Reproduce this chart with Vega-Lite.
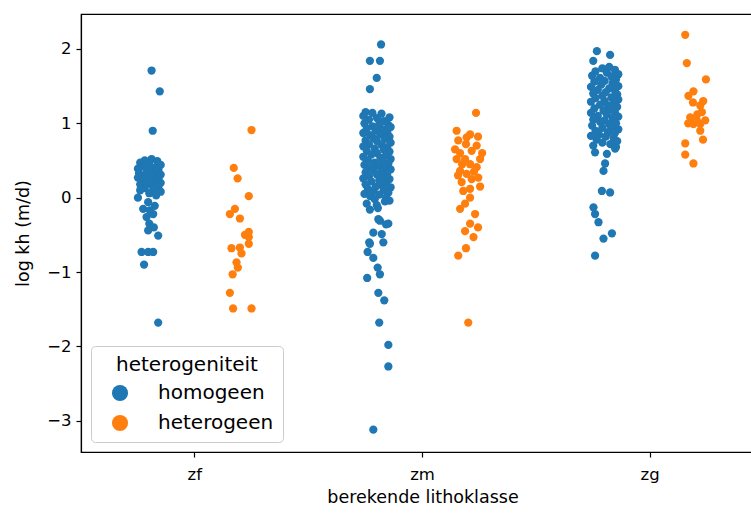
{
  "$schema": "https://vega.github.io/schema/vega-lite/v6.json",
  "width": 672,
  "height": 438,
  "autosize": "none",
  "padding": {"left": 81, "top": 14, "right": 0, "bottom": 61},
  "background": "white",
  "data": {
    "values": [
      {"k":"zf","h":"homogeen","v":1.71,"j":0.01},
      {"k":"zf","h":"homogeen","v":1.43,"j":0.046},
      {"k":"zf","h":"homogeen","v":0.90,"j":0.015},
      {"k":"zf","h":"homogeen","v":0.52,"j":0.01},
      {"k":"zf","h":"homogeen","v":0.50,"j":-0.02},
      {"k":"zf","h":"homogeen","v":0.49,"j":0.035},
      {"k":"zf","h":"homogeen","v":0.47,"j":-0.04},
      {"k":"zf","h":"homogeen","v":0.45,"j":0.0},
      {"k":"zf","h":"homogeen","v":0.44,"j":0.05},
      {"k":"zf","h":"homogeen","v":0.42,"j":-0.03},
      {"k":"zf","h":"homogeen","v":0.40,"j":0.02},
      {"k":"zf","h":"homogeen","v":0.39,"j":-0.05},
      {"k":"zf","h":"homogeen","v":0.38,"j":0.04},
      {"k":"zf","h":"homogeen","v":0.36,"j":-0.01},
      {"k":"zf","h":"homogeen","v":0.35,"j":0.03},
      {"k":"zf","h":"homogeen","v":0.33,"j":-0.045},
      {"k":"zf","h":"homogeen","v":0.32,"j":0.01},
      {"k":"zf","h":"homogeen","v":0.31,"j":0.05},
      {"k":"zf","h":"homogeen","v":0.30,"j":-0.02},
      {"k":"zf","h":"homogeen","v":0.28,"j":0.025},
      {"k":"zf","h":"homogeen","v":0.27,"j":-0.05},
      {"k":"zf","h":"homogeen","v":0.26,"j":0.04},
      {"k":"zf","h":"homogeen","v":0.25,"j":0.0},
      {"k":"zf","h":"homogeen","v":0.24,"j":-0.03},
      {"k":"zf","h":"homogeen","v":0.22,"j":0.03},
      {"k":"zf","h":"homogeen","v":0.21,"j":-0.01},
      {"k":"zf","h":"homogeen","v":0.20,"j":0.05},
      {"k":"zf","h":"homogeen","v":0.18,"j":-0.04},
      {"k":"zf","h":"homogeen","v":0.17,"j":0.01},
      {"k":"zf","h":"homogeen","v":0.15,"j":0.04},
      {"k":"zf","h":"homogeen","v":0.13,"j":-0.02},
      {"k":"zf","h":"homogeen","v":0.12,"j":0.02},
      {"k":"zf","h":"homogeen","v":0.10,"j":-0.04},
      {"k":"zf","h":"homogeen","v":0.08,"j":0.05},
      {"k":"zf","h":"homogeen","v":0.06,"j":0.0},
      {"k":"zf","h":"homogeen","v":0.03,"j":0.03},
      {"k":"zf","h":"homogeen","v":0.00,"j":-0.05},
      {"k":"zf","h":"homogeen","v":-0.06,"j":-0.005},
      {"k":"zf","h":"homogeen","v":-0.11,"j":0.024},
      {"k":"zf","h":"homogeen","v":-0.15,"j":-0.027},
      {"k":"zf","h":"homogeen","v":-0.17,"j":0.002},
      {"k":"zf","h":"homogeen","v":-0.22,"j":0.017},
      {"k":"zf","h":"homogeen","v":-0.26,"j":-0.012},
      {"k":"zf","h":"homogeen","v":-0.35,"j":0.0},
      {"k":"zf","h":"homogeen","v":-0.40,"j":0.02},
      {"k":"zf","h":"homogeen","v":-0.44,"j":-0.005},
      {"k":"zf","h":"homogeen","v":-0.51,"j":0.039},
      {"k":"zf","h":"homogeen","v":-0.73,"j":-0.034},
      {"k":"zf","h":"homogeen","v":-0.73,"j":-0.005},
      {"k":"zf","h":"homogeen","v":-0.73,"j":0.017},
      {"k":"zf","h":"homogeen","v":-0.90,"j":-0.023},
      {"k":"zf","h":"homogeen","v":-1.68,"j":0.039},

      {"k":"zf","h":"heterogeen","v":0.91,"j":0.049},
      {"k":"zf","h":"heterogeen","v":0.40,"j":-0.029},
      {"k":"zf","h":"heterogeen","v":0.26,"j":-0.012},
      {"k":"zf","h":"heterogeen","v":0.02,"j":0.037},
      {"k":"zf","h":"heterogeen","v":-0.15,"j":-0.024},
      {"k":"zf","h":"heterogeen","v":-0.22,"j":-0.046},
      {"k":"zf","h":"heterogeen","v":-0.28,"j":-0.002},
      {"k":"zf","h":"heterogeen","v":-0.46,"j":0.037},
      {"k":"zf","h":"heterogeen","v":-0.50,"j":0.02},
      {"k":"zf","h":"heterogeen","v":-0.53,"j":0.037},
      {"k":"zf","h":"heterogeen","v":-0.62,"j":0.037},
      {"k":"zf","h":"heterogeen","v":-0.68,"j":-0.039},
      {"k":"zf","h":"heterogeen","v":-0.67,"j":-0.002},
      {"k":"zf","h":"heterogeen","v":-0.75,"j":0.005},
      {"k":"zf","h":"heterogeen","v":-0.87,"j":-0.017},
      {"k":"zf","h":"heterogeen","v":-0.94,"j":-0.011},
      {"k":"zf","h":"heterogeen","v":-1.03,"j":-0.034},
      {"k":"zf","h":"heterogeen","v":-1.28,"j":-0.046},
      {"k":"zf","h":"heterogeen","v":-1.49,"j":-0.032},
      {"k":"zf","h":"heterogeen","v":-1.49,"j":0.049},

      {"k":"zm","h":"homogeen","v":2.06,"j":0.018},
      {"k":"zm","h":"homogeen","v":1.84,"j":-0.031},
      {"k":"zm","h":"homogeen","v":1.84,"j":0.013},
      {"k":"zm","h":"homogeen","v":1.61,"j":-0.001},
      {"k":"zm","h":"homogeen","v":1.46,"j":-0.031},
      {"k":"zm","h":"homogeen","v":1.15,"j":-0.05},
      {"k":"zm","h":"homogeen","v":1.14,"j":-0.02},
      {"k":"zm","h":"homogeen","v":1.13,"j":0.02},
      {"k":"zm","h":"homogeen","v":1.10,"j":-0.06},
      {"k":"zm","h":"homogeen","v":1.08,"j":0.055},
      {"k":"zm","h":"homogeen","v":1.07,"j":0.0},
      {"k":"zm","h":"homogeen","v":1.05,"j":-0.035},
      {"k":"zm","h":"homogeen","v":1.03,"j":0.03},
      {"k":"zm","h":"homogeen","v":1.00,"j":-0.055},
      {"k":"zm","h":"homogeen","v":0.99,"j":0.01},
      {"k":"zm","h":"homogeen","v":0.98,"j":0.05},
      {"k":"zm","h":"homogeen","v":0.96,"j":-0.02},
      {"k":"zm","h":"homogeen","v":0.95,"j":0.06},
      {"k":"zm","h":"homogeen","v":0.93,"j":-0.045},
      {"k":"zm","h":"homogeen","v":0.92,"j":0.025},
      {"k":"zm","h":"homogeen","v":0.90,"j":-0.005},
      {"k":"zm","h":"homogeen","v":0.88,"j":0.045},
      {"k":"zm","h":"homogeen","v":0.87,"j":-0.06},
      {"k":"zm","h":"homogeen","v":0.85,"j":0.015},
      {"k":"zm","h":"homogeen","v":0.84,"j":-0.03},
      {"k":"zm","h":"homogeen","v":0.82,"j":0.055},
      {"k":"zm","h":"homogeen","v":0.80,"j":-0.015},
      {"k":"zm","h":"homogeen","v":0.79,"j":0.035},
      {"k":"zm","h":"homogeen","v":0.77,"j":-0.05},
      {"k":"zm","h":"homogeen","v":0.76,"j":0.0},
      {"k":"zm","h":"homogeen","v":0.74,"j":0.06},
      {"k":"zm","h":"homogeen","v":0.72,"j":-0.035},
      {"k":"zm","h":"homogeen","v":0.71,"j":0.02},
      {"k":"zm","h":"homogeen","v":0.69,"j":-0.06},
      {"k":"zm","h":"homogeen","v":0.68,"j":0.045},
      {"k":"zm","h":"homogeen","v":0.66,"j":-0.01},
      {"k":"zm","h":"homogeen","v":0.65,"j":0.03},
      {"k":"zm","h":"homogeen","v":0.63,"j":-0.045},
      {"k":"zm","h":"homogeen","v":0.62,"j":0.055},
      {"k":"zm","h":"homogeen","v":0.60,"j":0.0},
      {"k":"zm","h":"homogeen","v":0.58,"j":-0.025},
      {"k":"zm","h":"homogeen","v":0.57,"j":0.04},
      {"k":"zm","h":"homogeen","v":0.55,"j":-0.06},
      {"k":"zm","h":"homogeen","v":0.54,"j":0.015},
      {"k":"zm","h":"homogeen","v":0.52,"j":0.06},
      {"k":"zm","h":"homogeen","v":0.50,"j":-0.04},
      {"k":"zm","h":"homogeen","v":0.49,"j":0.025},
      {"k":"zm","h":"homogeen","v":0.47,"j":-0.01},
      {"k":"zm","h":"homogeen","v":0.46,"j":0.05},
      {"k":"zm","h":"homogeen","v":0.44,"j":-0.055},
      {"k":"zm","h":"homogeen","v":0.43,"j":0.005},
      {"k":"zm","h":"homogeen","v":0.41,"j":0.035},
      {"k":"zm","h":"homogeen","v":0.40,"j":-0.03},
      {"k":"zm","h":"homogeen","v":0.38,"j":0.06},
      {"k":"zm","h":"homogeen","v":0.37,"j":-0.015},
      {"k":"zm","h":"homogeen","v":0.35,"j":0.02},
      {"k":"zm","h":"homogeen","v":0.34,"j":-0.05},
      {"k":"zm","h":"homogeen","v":0.32,"j":0.045},
      {"k":"zm","h":"homogeen","v":0.31,"j":0.0},
      {"k":"zm","h":"homogeen","v":0.29,"j":-0.035},
      {"k":"zm","h":"homogeen","v":0.28,"j":0.03},
      {"k":"zm","h":"homogeen","v":0.26,"j":-0.06},
      {"k":"zm","h":"homogeen","v":0.25,"j":0.055},
      {"k":"zm","h":"homogeen","v":0.23,"j":0.01},
      {"k":"zm","h":"homogeen","v":0.22,"j":-0.025},
      {"k":"zm","h":"homogeen","v":0.20,"j":0.04},
      {"k":"zm","h":"homogeen","v":0.18,"j":-0.05},
      {"k":"zm","h":"homogeen","v":0.17,"j":0.02},
      {"k":"zm","h":"homogeen","v":0.15,"j":-0.005},
      {"k":"zm","h":"homogeen","v":0.14,"j":0.06},
      {"k":"zm","h":"homogeen","v":0.12,"j":-0.04},
      {"k":"zm","h":"homogeen","v":0.10,"j":0.03},
      {"k":"zm","h":"homogeen","v":0.09,"j":-0.015},
      {"k":"zm","h":"homogeen","v":0.07,"j":0.05},
      {"k":"zm","h":"homogeen","v":0.05,"j":-0.055},
      {"k":"zm","h":"homogeen","v":0.04,"j":0.01},
      {"k":"zm","h":"homogeen","v":0.02,"j":-0.03},
      {"k":"zm","h":"homogeen","v":0.00,"j":0.04},
      {"k":"zm","h":"homogeen","v":-0.02,"j":-0.01},
      {"k":"zm","h":"homogeen","v":-0.04,"j":0.055},
      {"k":"zm","h":"homogeen","v":-0.05,"j":0.035},
      {"k":"zm","h":"homogeen","v":-0.08,"j":-0.045},
      {"k":"zm","h":"homogeen","v":-0.10,"j":-0.001},
      {"k":"zm","h":"homogeen","v":-0.14,"j":0.004},
      {"k":"zm","h":"homogeen","v":-0.16,"j":-0.031},
      {"k":"zm","h":"homogeen","v":-0.29,"j":0.006},
      {"k":"zm","h":"homogeen","v":-0.31,"j":0.013},
      {"k":"zm","h":"homogeen","v":-0.35,"j":0.05},
      {"k":"zm","h":"homogeen","v":-0.36,"j":0.04},
      {"k":"zm","h":"homogeen","v":-0.47,"j":-0.016},
      {"k":"zm","h":"homogeen","v":-0.49,"j":0.021},
      {"k":"zm","h":"homogeen","v":-0.60,"j":-0.034},
      {"k":"zm","h":"homogeen","v":-0.60,"j":0.028},
      {"k":"zm","h":"homogeen","v":-0.62,"j":-0.031},
      {"k":"zm","h":"homogeen","v":-0.73,"j":-0.041},
      {"k":"zm","h":"homogeen","v":-0.81,"j":-0.016},
      {"k":"zm","h":"homogeen","v":-0.94,"j":0.003},
      {"k":"zm","h":"homogeen","v":-1.03,"j":0.013},
      {"k":"zm","h":"homogeen","v":-1.08,"j":-0.043},
      {"k":"zm","h":"homogeen","v":-1.28,"j":0.006},
      {"k":"zm","h":"homogeen","v":-1.38,"j":0.032},
      {"k":"zm","h":"homogeen","v":-1.68,"j":0.01},
      {"k":"zm","h":"homogeen","v":-1.98,"j":0.05},
      {"k":"zm","h":"homogeen","v":-2.27,"j":0.05},
      {"k":"zm","h":"homogeen","v":-3.12,"j":-0.016},

      {"k":"zm","h":"heterogeen","v":1.14,"j":0.035},
      {"k":"zm","h":"heterogeen","v":0.90,"j":-0.05},
      {"k":"zm","h":"heterogeen","v":0.85,"j":0.009},
      {"k":"zm","h":"heterogeen","v":0.82,"j":0.044},
      {"k":"zm","h":"heterogeen","v":0.81,"j":-0.006},
      {"k":"zm","h":"heterogeen","v":0.77,"j":-0.043},
      {"k":"zm","h":"heterogeen","v":0.72,"j":-0.009},
      {"k":"zm","h":"heterogeen","v":0.70,"j":0.038},
      {"k":"zm","h":"heterogeen","v":0.65,"j":-0.057},
      {"k":"zm","h":"heterogeen","v":0.63,"j":0.016},
      {"k":"zm","h":"heterogeen","v":0.60,"j":-0.035},
      {"k":"zm","h":"heterogeen","v":0.60,"j":0.062},
      {"k":"zm","h":"heterogeen","v":0.52,"j":-0.05},
      {"k":"zm","h":"heterogeen","v":0.52,"j":-0.013},
      {"k":"zm","h":"heterogeen","v":0.52,"j":0.053},
      {"k":"zm","h":"heterogeen","v":0.45,"j":0.009},
      {"k":"zm","h":"heterogeen","v":0.45,"j":-0.026},
      {"k":"zm","h":"heterogeen","v":0.41,"j":0.038},
      {"k":"zm","h":"heterogeen","v":0.36,"j":-0.035},
      {"k":"zm","h":"heterogeen","v":0.35,"j":0.026},
      {"k":"zm","h":"heterogeen","v":0.32,"j":-0.006},
      {"k":"zm","h":"heterogeen","v":0.30,"j":-0.044},
      {"k":"zm","h":"heterogeen","v":0.27,"j":0.045},
      {"k":"zm","h":"heterogeen","v":0.25,"j":0.016},
      {"k":"zm","h":"heterogeen","v":0.21,"j":-0.028},
      {"k":"zm","h":"heterogeen","v":0.15,"j":0.053},
      {"k":"zm","h":"heterogeen","v":0.12,"j":0.009},
      {"k":"zm","h":"heterogeen","v":0.09,"j":-0.021},
      {"k":"zm","h":"heterogeen","v":0.00,"j":0.009},
      {"k":"zm","h":"heterogeen","v":-0.08,"j":-0.013},
      {"k":"zm","h":"heterogeen","v":-0.15,"j":-0.035},
      {"k":"zm","h":"heterogeen","v":-0.22,"j":0.031},
      {"k":"zm","h":"heterogeen","v":-0.35,"j":0.009},
      {"k":"zm","h":"heterogeen","v":-0.40,"j":0.044},
      {"k":"zm","h":"heterogeen","v":-0.45,"j":-0.013},
      {"k":"zm","h":"heterogeen","v":-0.53,"j":0.024},
      {"k":"zm","h":"heterogeen","v":-0.68,"j":-0.009},
      {"k":"zm","h":"heterogeen","v":-0.78,"j":-0.043},
      {"k":"zm","h":"heterogeen","v":-1.68,"j":0.001},

      {"k":"zg","h":"homogeen","v":1.97,"j":-0.034},
      {"k":"zg","h":"homogeen","v":1.92,"j":0.024},
      {"k":"zg","h":"homogeen","v":1.84,"j":-0.05},
      {"k":"zg","h":"homogeen","v":1.76,"j":0.02},
      {"k":"zg","h":"homogeen","v":1.74,"j":-0.01},
      {"k":"zg","h":"homogeen","v":1.72,"j":0.045},
      {"k":"zg","h":"homogeen","v":1.70,"j":-0.04},
      {"k":"zg","h":"homogeen","v":1.68,"j":0.01},
      {"k":"zg","h":"homogeen","v":1.66,"j":0.06},
      {"k":"zg","h":"homogeen","v":1.64,"j":-0.055},
      {"k":"zg","h":"homogeen","v":1.63,"j":0.03},
      {"k":"zg","h":"homogeen","v":1.61,"j":-0.02},
      {"k":"zg","h":"homogeen","v":1.59,"j":0.05},
      {"k":"zg","h":"homogeen","v":1.57,"j":0.0},
      {"k":"zg","h":"homogeen","v":1.56,"j":-0.045},
      {"k":"zg","h":"homogeen","v":1.54,"j":0.035},
      {"k":"zg","h":"homogeen","v":1.52,"j":-0.015},
      {"k":"zg","h":"homogeen","v":1.50,"j":0.06},
      {"k":"zg","h":"homogeen","v":1.49,"j":-0.06},
      {"k":"zg","h":"homogeen","v":1.47,"j":0.02},
      {"k":"zg","h":"homogeen","v":1.45,"j":-0.03},
      {"k":"zg","h":"homogeen","v":1.44,"j":0.045},
      {"k":"zg","h":"homogeen","v":1.42,"j":0.005},
      {"k":"zg","h":"homogeen","v":1.40,"j":-0.05},
      {"k":"zg","h":"homogeen","v":1.39,"j":0.055},
      {"k":"zg","h":"homogeen","v":1.37,"j":-0.01},
      {"k":"zg","h":"homogeen","v":1.35,"j":0.03},
      {"k":"zg","h":"homogeen","v":1.34,"j":-0.04},
      {"k":"zg","h":"homogeen","v":1.32,"j":0.06},
      {"k":"zg","h":"homogeen","v":1.30,"j":0.0},
      {"k":"zg","h":"homogeen","v":1.29,"j":-0.06},
      {"k":"zg","h":"homogeen","v":1.27,"j":0.04},
      {"k":"zg","h":"homogeen","v":1.25,"j":-0.02},
      {"k":"zg","h":"homogeen","v":1.24,"j":0.015},
      {"k":"zg","h":"homogeen","v":1.22,"j":0.055},
      {"k":"zg","h":"homogeen","v":1.20,"j":-0.045},
      {"k":"zg","h":"homogeen","v":1.19,"j":0.025},
      {"k":"zg","h":"homogeen","v":1.17,"j":-0.005},
      {"k":"zg","h":"homogeen","v":1.15,"j":0.045},
      {"k":"zg","h":"homogeen","v":1.14,"j":-0.06},
      {"k":"zg","h":"homogeen","v":1.12,"j":0.01},
      {"k":"zg","h":"homogeen","v":1.10,"j":-0.03},
      {"k":"zg","h":"homogeen","v":1.09,"j":0.06},
      {"k":"zg","h":"homogeen","v":1.07,"j":0.035},
      {"k":"zg","h":"homogeen","v":1.05,"j":-0.05},
      {"k":"zg","h":"homogeen","v":1.04,"j":0.0},
      {"k":"zg","h":"homogeen","v":1.02,"j":-0.02},
      {"k":"zg","h":"homogeen","v":1.00,"j":0.05},
      {"k":"zg","h":"homogeen","v":0.99,"j":0.02},
      {"k":"zg","h":"homogeen","v":0.97,"j":-0.055},
      {"k":"zg","h":"homogeen","v":0.95,"j":0.03},
      {"k":"zg","h":"homogeen","v":0.94,"j":-0.01},
      {"k":"zg","h":"homogeen","v":0.92,"j":0.06},
      {"k":"zg","h":"homogeen","v":0.90,"j":-0.04},
      {"k":"zg","h":"homogeen","v":0.88,"j":0.015},
      {"k":"zg","h":"homogeen","v":0.87,"j":0.045},
      {"k":"zg","h":"homogeen","v":0.85,"j":-0.025},
      {"k":"zg","h":"homogeen","v":0.83,"j":-0.06},
      {"k":"zg","h":"homogeen","v":0.82,"j":0.005},
      {"k":"zg","h":"homogeen","v":0.80,"j":0.04},
      {"k":"zg","h":"homogeen","v":0.78,"j":-0.035},
      {"k":"zg","h":"homogeen","v":0.76,"j":0.055},
      {"k":"zg","h":"homogeen","v":0.74,"j":-0.01},
      {"k":"zg","h":"homogeen","v":0.72,"j":0.025},
      {"k":"zg","h":"homogeen","v":0.70,"j":-0.05},
      {"k":"zg","h":"homogeen","v":0.68,"j":0.05},
      {"k":"zg","h":"homogeen","v":0.66,"j":0.046},
      {"k":"zg","h":"homogeen","v":0.61,"j":-0.042},
      {"k":"zg","h":"homogeen","v":0.59,"j":0.01},
      {"k":"zg","h":"homogeen","v":0.46,"j":0.002},
      {"k":"zg","h":"homogeen","v":0.36,"j":-0.005},
      {"k":"zg","h":"homogeen","v":0.09,"j":-0.012},
      {"k":"zg","h":"homogeen","v":0.07,"j":0.024},
      {"k":"zg","h":"homogeen","v":-0.13,"j":-0.049},
      {"k":"zg","h":"homogeen","v":-0.22,"j":-0.042},
      {"k":"zg","h":"homogeen","v":-0.33,"j":-0.027},
      {"k":"zg","h":"homogeen","v":-0.48,"j":0.032},
      {"k":"zg","h":"homogeen","v":-0.55,"j":-0.005},
      {"k":"zg","h":"homogeen","v":-0.78,"j":-0.042},

      {"k":"zg","h":"heterogeen","v":2.19,"j":-0.046},
      {"k":"zg","h":"heterogeen","v":1.81,"j":-0.039},
      {"k":"zg","h":"heterogeen","v":1.59,"j":0.045},
      {"k":"zg","h":"heterogeen","v":1.43,"j":-0.01},
      {"k":"zg","h":"heterogeen","v":1.37,"j":-0.032},
      {"k":"zg","h":"heterogeen","v":1.30,"j":0.033},
      {"k":"zg","h":"heterogeen","v":1.28,"j":-0.012},
      {"k":"zg","h":"heterogeen","v":1.24,"j":0.02},
      {"k":"zg","h":"heterogeen","v":1.15,"j":0.027},
      {"k":"zg","h":"heterogeen","v":1.12,"j":0.007},
      {"k":"zg","h":"heterogeen","v":1.08,"j":-0.024},
      {"k":"zg","h":"heterogeen","v":1.04,"j":0.005},
      {"k":"zg","h":"heterogeen","v":1.04,"j":0.042},
      {"k":"zg","h":"heterogeen","v":1.00,"j":-0.033},
      {"k":"zg","h":"heterogeen","v":0.99,"j":-0.01},
      {"k":"zg","h":"heterogeen","v":0.99,"j":0.02},
      {"k":"zg","h":"heterogeen","v":0.90,"j":0.02},
      {"k":"zg","h":"heterogeen","v":0.78,"j":0.032},
      {"k":"zg","h":"heterogeen","v":0.73,"j":-0.046},
      {"k":"zg","h":"heterogeen","v":0.58,"j":-0.046},
      {"k":"zg","h":"heterogeen","v":0.46,"j":-0.01}
    ]
  },
  "encoding": {
    "x": {
      "field": "k",
      "type": "nominal",
      "sort": ["zf", "zm", "zg"],
      "scale": {"range": [0, 683], "paddingInner": 0, "paddingOuter": 0},
      "axis": {"title": "berekende lithoklasse", "labelAngle": 0, "titlePadding": 6, "labelPadding": 9}
    },
    "y": {
      "field": "v",
      "type": "quantitative",
      "scale": {"domain": [-3.42, 2.47], "nice": false, "zero": false},
      "axis": {"values": [-3, -2, -1, 0, 1, 2], "title": "log kh (m/d)", "titlePadding": 14}
    },
    "color": {
      "field": "h",
      "type": "nominal",
      "title": "heterogeniteit",
      "scale": {"domain": ["homogeen", "heterogeen"], "range": ["#1f77b4", "#ff7f0e"]},
      "legend": {
        "orient": "bottom-left",
        "offset": 10,
        "padding": 9,
        "strokeColor": "#cccccc",
        "fillColor": "white",
        "cornerRadius": 4,
        "titleFontSize": 20,
        "labelFontSize": 20,
        "titleFontWeight": "normal",
        "titleAnchor": "middle",
        "titlePadding": 8,
        "symbolType": "circle",
        "symbolSize": 260,
        "symbolStrokeWidth": 0,
        "symbolOffset": 10,
        "labelOffset": 28,
        "rowPadding": 10
      }
    }
  },
  "layer": [
    {
      "transform": [{"filter": "datum.h === 'homogeen'"}],
      "mark": {"type": "circle", "size": 68, "opacity": 1},
      "encoding": {
        "xOffset": {"field": "j", "type": "quantitative", "scale": {"domain": [-0.3, 0.7]}}
      }
    },
    {
      "transform": [{"filter": "datum.h === 'heterogeen'"}],
      "mark": {"type": "circle", "size": 68, "opacity": 1},
      "encoding": {
        "xOffset": {"field": "j", "type": "quantitative", "scale": {"domain": [-0.7, 0.3]}}
      }
    }
  ],
  "resolve": {"scale": {"xOffset": "independent"}},
  "config": {
    "font": "DejaVu Sans",
    "view": {"stroke": "black", "strokeWidth": 1.2},
    "axis": {
      "labelFont": "DejaVu Sans",
      "titleFont": "DejaVu Sans",
      "labelFontSize": 16.5,
      "titleFontSize": 17.5,
      "titleFontWeight": "normal",
      "labelColor": "black",
      "titleColor": "black",
      "domainColor": "black",
      "domainWidth": 1.2,
      "tickColor": "black",
      "tickWidth": 1.2,
      "tickSize": 5,
      "labelPadding": 5,
      "grid": false
    },
    "legend": {
      "labelFont": "DejaVu Sans",
      "titleFont": "DejaVu Sans",
      "labelColor": "black",
      "titleColor": "black"
    }
  }
}
